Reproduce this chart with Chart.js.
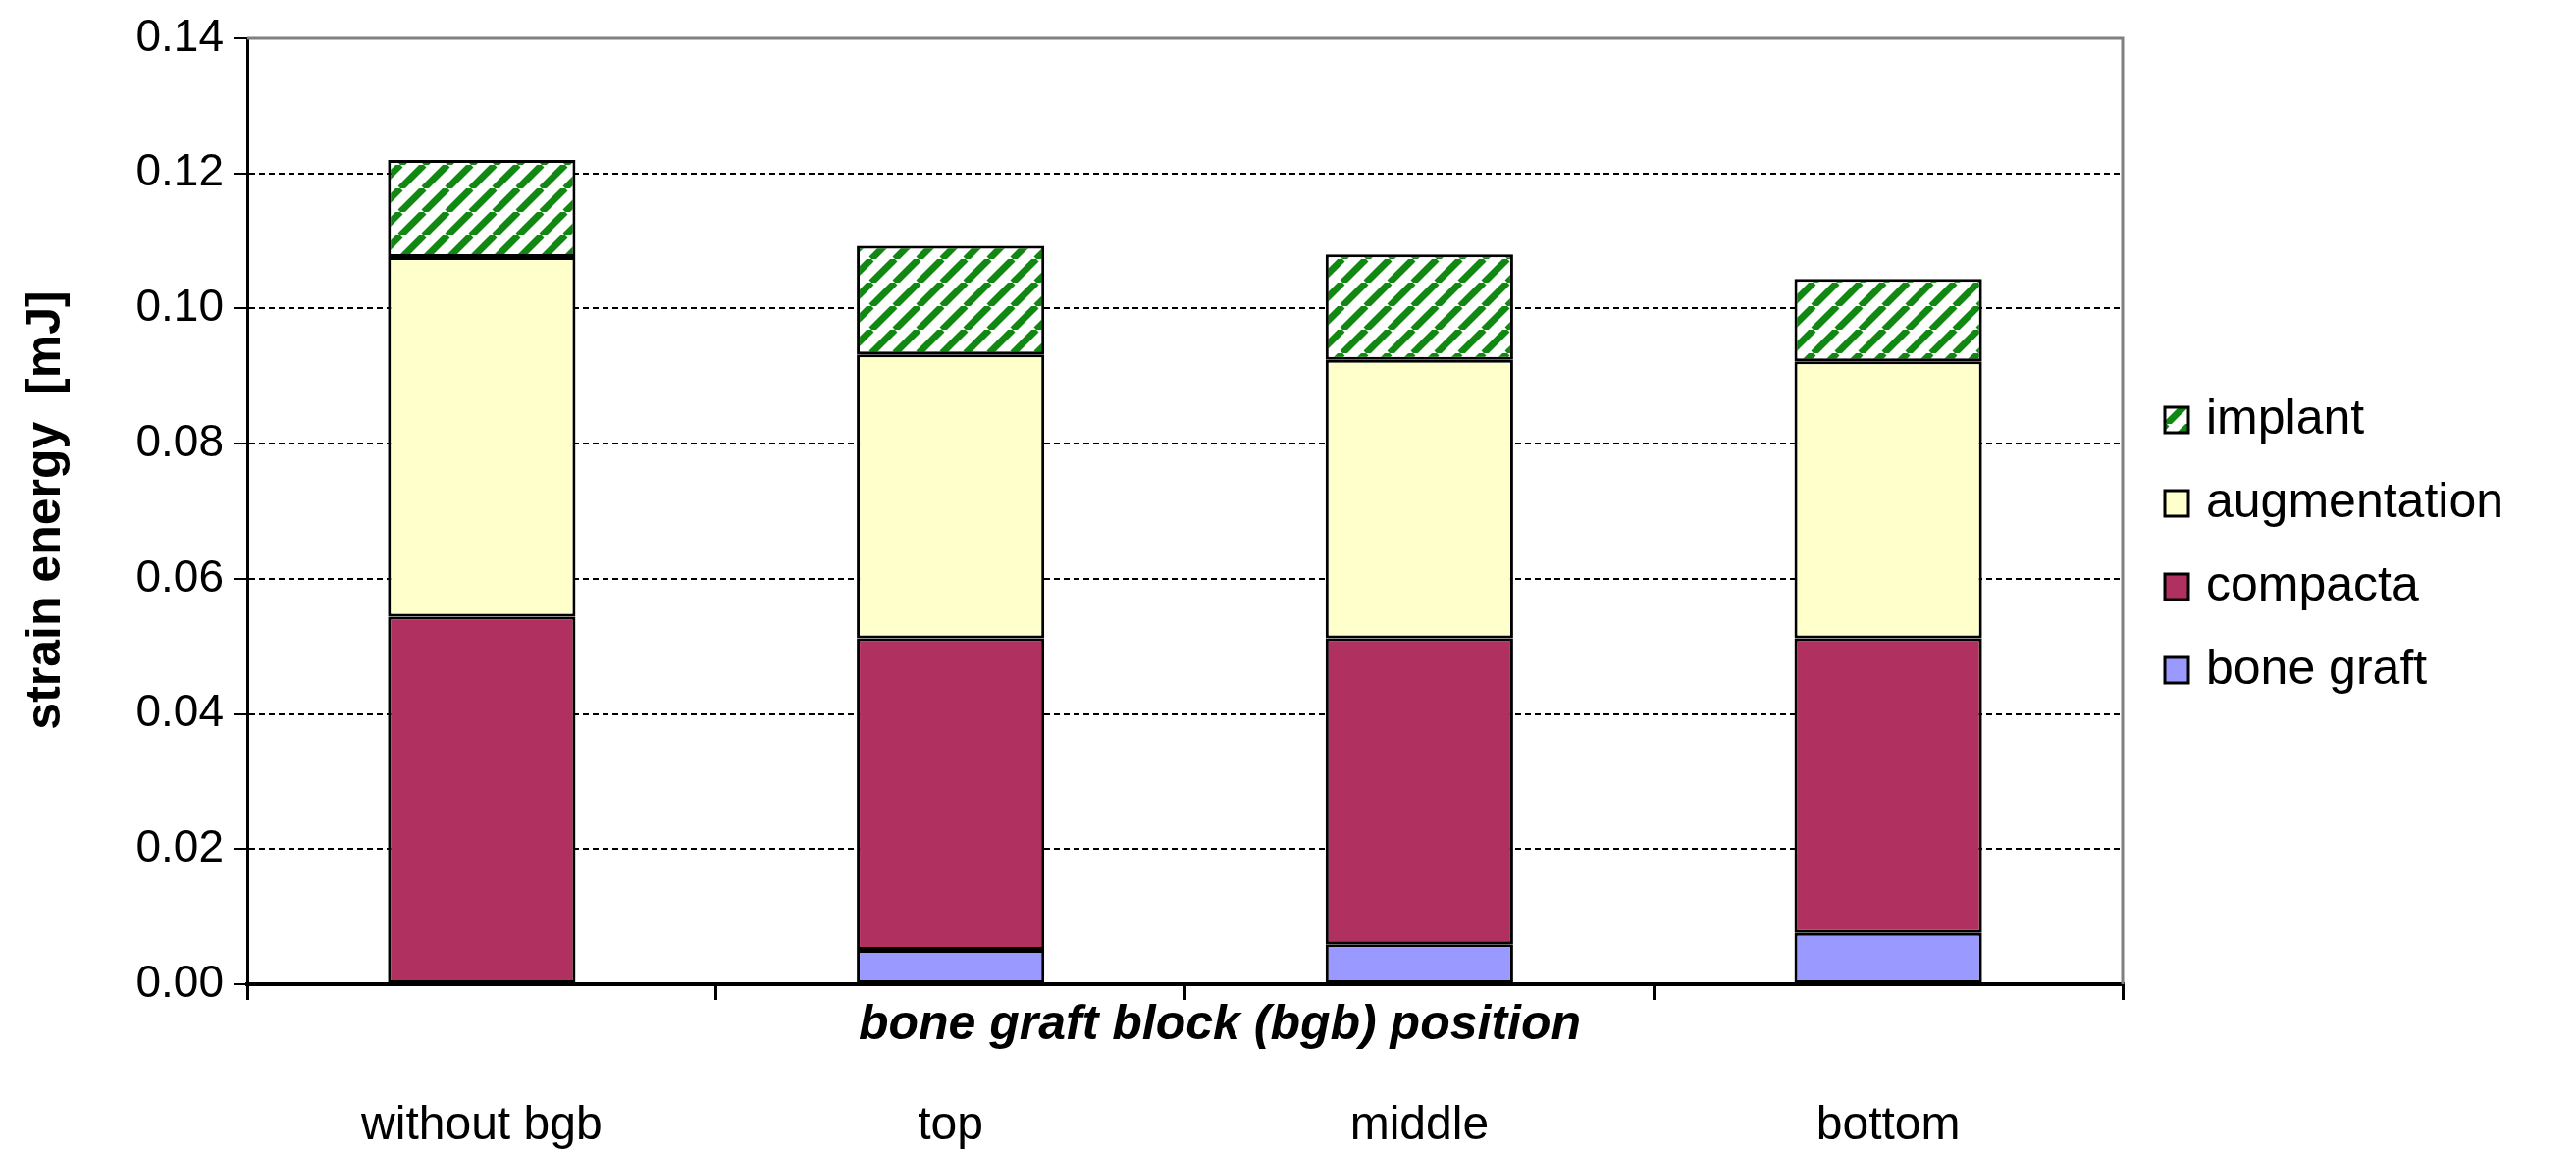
<!DOCTYPE html>
<html>
<head>
<meta charset="utf-8">
<script src="https://cdn.jsdelivr.net/npm/chart.js@4"></script>
<style>
  html, body { margin: 0; padding: 0; background: #fff; }
  canvas { display: block; }
</style>
</head>
<body>
<canvas id="chart" width="2625" height="1172"></canvas>
<script>
// data (segment heights, mJ)
const categories = ['without bgb', 'top', 'middle', 'bottom'];
const boneGraft = [0, 0.0051, 0.0059, 0.0076];
const compacta = [0.0544, 0.0461, 0.0453, 0.0436];
const augmentation = [0.0532, 0.0420, 0.0412, 0.0410];
const implant = [0.0144, 0.0161, 0.0156, 0.0122];
const yTicks = [0, 0.02, 0.04, 0.06, 0.08, 0.10, 0.12, 0.14];

// white with green diagonal stripes
function hatch() {
    const c = document.createElement('canvas');
    c.width = 24; c.height = 24;
    const g = c.getContext('2d');
    g.fillStyle = '#fff';
    g.fillRect(0, 0, 24, 24);
    g.strokeStyle = '#118811';
    g.lineWidth = 7;
    g.beginPath();
    for (let k = -24; k <= 48; k += 24) {
        g.moveTo(k, 24);
        g.lineTo(k + 24, 0);
    }
    g.stroke();
    return g.createPattern(c, 'repeat');
}

const ctx = document.getElementById('chart').getContext('2d');
const implantFill = hatch();

const series = [
    { label: 'bone graft', data: boneGraft, color: '#9999ff' },
    { label: 'compacta', data: compacta, color: '#b03060' },
    { label: 'augmentation', data: augmentation, color: '#ffffcc' },
    { label: 'implant', data: implant, color: implantFill }
];

const extras = {
    id: 'extras',
    afterDraw(chart) {
        const g = chart.ctx;
        const area = chart.chartArea;
        g.save();
        // plot frame top/right
        g.strokeStyle = '#808080';
        g.lineWidth = 3;
        g.beginPath();
        g.moveTo(area.left, area.top);
        g.lineTo(area.right, area.top);
        g.lineTo(area.right, area.bottom);
        g.stroke();
        // axis titles
        g.fillStyle = '#000';
        g.textAlign = 'center';
        g.textBaseline = 'middle';
        g.font = 'italic bold 50px "Liberation Sans", Arial';
        g.fillText('bone graft block (bgb) position', 1243, 1045);
        g.translate(47, 520);
        g.rotate(-Math.PI / 2);
        g.font = 'bold 50px "Liberation Sans", Arial';
        g.fillText('strain energy  [mJ]', 0, 0);
        g.restore();
        // legend
        g.save();
        g.font = '50px "Liberation Sans", Arial';
        g.textBaseline = 'middle';
        const rows = series.slice().reverse();
        rows.forEach((s, i) => {
            const y = 428 + i * 85;
            g.fillStyle = s.color;
            g.fillRect(2206, y - 13, 24, 26);
            g.strokeStyle = '#000';
            g.lineWidth = 3;
            g.strokeRect(2206, y - 13, 24, 26);
            g.fillStyle = '#000';
            g.fillText(s.label, 2248, y);
        });
        g.restore();
    }
};

new Chart(ctx, {
    type: 'bar',
    data: {
        labels: categories,
        datasets: series.map(s => ({
            label: s.label,
            data: s.data,
            backgroundColor: s.color,
            borderColor: '#000',
            borderWidth: 3,
            borderSkipped: false,
            barPercentage: 0.4,
            categoryPercentage: 1
        }))
    },
    options: {
        responsive: false,
        animation: false,
        layout: { padding: { top: 39, right: 462 } },
        plugins: { legend: { display: false }, tooltip: { enabled: false } },
        scales: {
            x: {
                stacked: true,
                offset: true,
                grid: { offset: true, drawOnChartArea: false, color: '#000', lineWidth: 3, tickLength: 16 },
                border: { color: '#000', width: 4 },
                ticks: { color: '#000', padding: 100, font: { size: 48, family: '"Liberation Sans", Arial' } },
                afterFit(s) { s.height = 169; }
            },
            y: {
                stacked: true,
                min: 0,
                max: 0.14,
                afterBuildTicks(s) { s.ticks = yTicks.map(v => ({ value: v })); },
                grid: {
                    color: '#000', lineWidth: 2, tickLength: 14,
                    drawOnChartArea: true
                },
                border: { color: '#000', width: 3, dash: [6, 4] },
                ticks: {
                    color: '#000', padding: 10,
                    font: { size: 46, family: '"Liberation Sans", Arial' },
                    callback: v => v.toFixed(2)
                },
                afterFit(s) { s.width = 252; }
            }
        }
    },
    plugins: [extras]
});
</script>
</body>
</html>
